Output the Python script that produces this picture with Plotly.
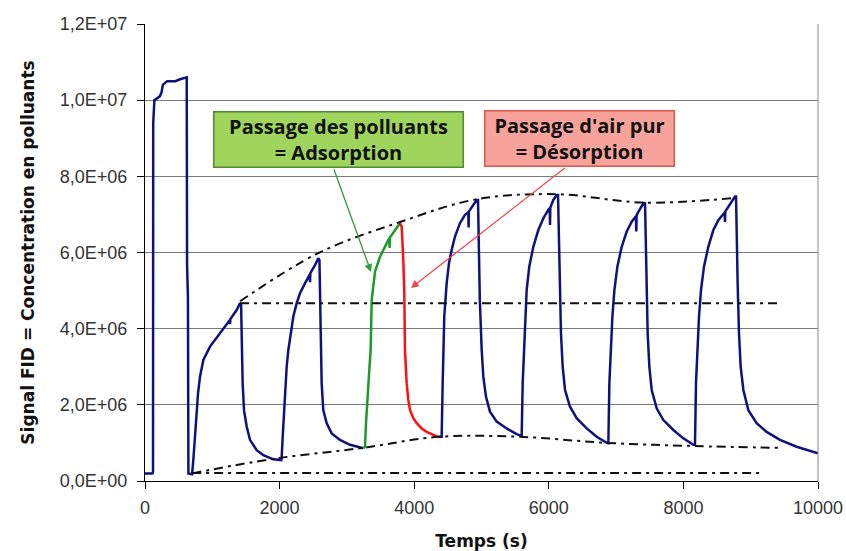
import plotly.graph_objects as go

# ---- data (time in s, FID signal) ----
# blue signal, part 1: initial injection + cycles 1 and 2
t_blue1 = [0, 110, 119, 122, 140, 220, 245, 265, 330, 450, 520, 600, 620, 625, 638, 645, 700,
           720, 743, 768, 788, 817, 867, 966, 1114, 1258, 1263, 1268, 1362, 1412, 1428,
           1437, 1451, 1471, 1511, 1560, 1659, 1758, 1907, 2025,
           2031, 2046, 2065, 2080, 2105, 2130, 2165, 2204, 2254, 2303, 2377, 2447, 2452, 2457, 2526, 2575,
           2592, 2610, 2625, 2640, 2649, 2699, 2774, 2897, 3046, 3244]
v_blue1 = [0.2e6, 0.2e6, 0.25e6, 9.4e6, 1.0e7, 1.01e7, 1.02e7, 1.04e7, 1.05e7, 1.05e7, 1.055e7, 1.06e7, 1.06e7, 5.7e6, 4.8e6, 0.2e6, 0.18e6,
           0.6e6, 1.16e6, 1.95e6, 2.3e6, 2.74e6, 3.18e6, 3.53e6, 3.88e6, 4.22e6, 4.12e6, 4.25e6, 4.49e6, 4.67e6, 4.62e6,
           3.88e6, 2.57e6, 1.86e6, 1.43e6, 1.08e6, 0.81e6, 0.68e6, 0.57e6, 0.55e6,
           0.64e6, 1.16e6, 1.86e6, 2.3e6, 3.0e6, 3.44e6, 3.88e6, 4.32e6, 4.67e6, 4.93e6, 5.19e6, 5.42e6, 5.22e6, 5.46e6, 5.67e6, 5.85e6,
           5.8e6, 3.88e6, 2.57e6, 2.13e6, 1.86e6, 1.52e6, 1.25e6, 1.08e6, 0.95e6, 0.86e6]

# green segment: adsorption (cycle 3)
t_green = [3244, 3269, 3284, 3294, 3318, 3333, 3353, 3368, 3418, 3492, 3591, 3630, 3634, 3640, 3665, 3764, 3789]
v_green = [0.86e6, 0.9e6, 1.52e6, 1.86e6, 2.39e6, 2.92e6, 3.44e6, 4.75e6, 5.5e6, 5.89e6, 6.24e6, 6.38e6, 6.12e6, 6.4e6, 6.46e6, 6.72e6, 6.77e6]

# red segment: desorption (cycle 3)
t_red = [3789, 3814, 3838, 3853, 3863, 3888, 3912, 3938, 3987, 4037, 4111, 4186, 4284, 4358]
v_red = [6.77e6, 6.68e6, 5.8e6, 4.93e6, 3.44e6, 2.57e6, 2.13e6, 1.86e6, 1.65e6, 1.52e6, 1.38e6, 1.29e6, 1.21e6, 1.16e6]

# blue signal, part 2: cycles 4 to 7
t_blue2 = [4358, 4408, 4423, 4432, 4447, 4482, 4517, 4557, 4606, 4680, 4755, 4805, 4808, 4813, 4829, 4928,
           4948, 4963, 4975, 5003, 5027, 5067, 5126, 5226, 5374, 5523, 5597,
           5612, 5632, 5646, 5671, 5710, 5770, 5844, 5919, 5993, 6013, 6018, 6023, 6067, 6117,
           6137, 6157, 6166, 6181, 6206, 6241, 6315, 6414, 6563, 6712, 6860,
           6885, 6900, 6920, 6945, 6975, 7019, 7083, 7158, 7232, 7295, 7300, 7305, 7331, 7405,
           7430, 7444, 7454, 7469, 7494, 7529, 7603, 7702, 7851, 7999, 8148,
           8172, 8187, 8207, 8232, 8262, 8306, 8370, 8445, 8519, 8613, 8618, 8623, 8668, 8767,
           8782, 8791, 8806, 8826, 8851, 8891, 8965, 9088, 9237, 9435, 9683, 10000]
v_blue2 = [1.16e6, 1.16e6, 2.57e6, 3.44e6, 4.32e6, 5.19e6, 5.72e6, 6.07e6, 6.42e6, 6.77e6, 6.99e6, 7.06e6, 6.66e6, 7.08e6, 7.12e6, 7.38e6,
           7.38e6, 6.07e6, 4.75e6, 3.44e6, 2.74e6, 2.21e6, 1.82e6, 1.56e6, 1.38e6, 1.23e6, 1.18e6,
           2.57e6, 3.44e6, 4.32e6, 5.02e6, 5.63e6, 6.15e6, 6.59e6, 6.9e6, 7.12e6, 7.16e6, 6.72e6, 7.18e6, 7.38e6, 7.51e6,
           7.51e6, 6.07e6, 5.2e6, 3.88e6, 3.0e6, 2.39e6, 1.95e6, 1.65e6, 1.38e6, 1.16e6, 1.0e6,
           0.99e6, 2.57e6, 3.44e6, 4.32e6, 5.02e6, 5.63e6, 6.15e6, 6.55e6, 6.81e6, 6.95e6, 6.55e6, 6.98e6, 7.07e6, 7.29e6,
           7.29e6, 6.07e6, 5.2e6, 3.88e6, 3.0e6, 2.39e6, 1.91e6, 1.6e6, 1.34e6, 1.12e6, 0.95e6,
           0.95e6, 2.57e6, 3.44e6, 4.32e6, 5.02e6, 5.63e6, 6.15e6, 6.59e6, 6.85e6, 7.05e6, 6.8e6, 7.08e6, 7.2e6, 7.47e6,
           7.47e6, 6.07e6, 5.2e6, 3.88e6, 3.0e6, 2.39e6, 1.86e6, 1.52e6, 1.29e6, 1.08e6, 0.9e6, 0.73e6]

# dash-dot guide lines
t_upper_env = [1412, 2570, 3789, 4933, 6122, 7400, 8767]
v_upper_env = [4.72e6, 5.98e6, 6.8e6, 7.4e6, 7.53e6, 7.31e6, 7.43e6]

t_lower_env = [700, 1900, 3239, 4358, 5572, 6865, 8143, 9430]
v_lower_env = [0.2e6, 0.58e6, 0.87e6, 1.16e6, 1.16e6, 1.0e6, 0.92e6, 0.87e6]

t_mid_level = [1412, 9428]
v_mid_level = [4.67e6, 4.67e6]

t_base_level = [700, 9138]
v_base_level = [0.21e6, 0.21e6]

y_tickvals = [0, 2e6, 4e6, 6e6, 8e6, 1e7, 1.2e7]
y_ticktext = ["0,0E+00", "2,0E+06", "4,0E+06", "6,0E+06", "8,0E+06", "1,0E+07", "1,2E+07"]
x_tickvals = [0, 2000, 4000, 6000, 8000, 10000]
x_ticktext = ["0", "2000", "4000", "6000", "8000", "10000"]

NAVY = "#10107f"
DASH = "9px,5px,3px,5px"

fig = go.Figure()
fig.add_trace(go.Scatter(x=t_blue1, y=v_blue1, mode="lines", line=dict(color=NAVY, width=2.5)))
fig.add_trace(go.Scatter(x=t_blue2, y=v_blue2, mode="lines", line=dict(color=NAVY, width=2.5)))
fig.add_trace(go.Scatter(x=t_green, y=v_green, mode="lines", line=dict(color="#1e9a2a", width=2.5)))
fig.add_trace(go.Scatter(x=t_red, y=v_red, mode="lines", line=dict(color="#ff1010", width=2.5)))
for tx, vy, shp in [(t_upper_env, v_upper_env, "spline"), (t_lower_env, v_lower_env, "spline"),
                    (t_mid_level, v_mid_level, "linear"), (t_base_level, v_base_level, "linear")]:
    fig.add_trace(go.Scatter(x=tx, y=vy, mode="lines",
                             line=dict(color="#111111", width=2, dash=DASH, shape=shp)))

# annotation boxes
fig.add_annotation(x=2880, y=8.97e6, xref="x", yref="y", showarrow=False,
                   text="<b>Passage des polluants<br>= Adsorption</b>",
                   font=dict(family="Open Sans", size=20, color="#111111"),
                   bgcolor="#9fd55c", bordercolor="#4f8a34", borderwidth=1.5,
                   width=246, height=52, align="center")
fig.add_annotation(x=6450, y=9.0e6, xref="x", yref="y", showarrow=False,
                   text="<b>Passage d'air pur<br>= Désorption</b>",
                   font=dict(family="Open Sans", size=20, color="#111111"),
                   bgcolor="#f7a39b", bordercolor="#e0554c", borderwidth=1.5,
                   width=186, height=52, align="center")
# arrows
fig.add_annotation(x=3358, y=5.49e6, ax=2800, ay=8.22e6, xref="x", yref="y", axref="x", ayref="y",
                   text="", showarrow=True, arrowhead=2, arrowsize=1.2, arrowwidth=1.3, arrowcolor="#2f9a3f")
fig.add_annotation(x=3952, y=5.07e6, ax=6260, ay=8.25e6, xref="x", yref="y", axref="x", ayref="y",
                   text="", showarrow=True, arrowhead=2, arrowsize=1.2, arrowwidth=1.3, arrowcolor="#f04848")

# right border of plot area
fig.add_shape(type="line", xref="paper", yref="paper", x0=1, x1=1, y0=0, y1=1,
              line=dict(color="#888888", width=1))

fig.update_layout(
    width=846, height=551,
    margin=dict(l=145, r=28, t=24, b=70, autoexpand=False),
    paper_bgcolor="white", plot_bgcolor="white",
    showlegend=False,
    font=dict(family="Liberation Sans", size=18, color="#333333"),
)
fig.update_xaxes(range=[0, 10000], tickvals=x_tickvals, ticktext=x_ticktext, automargin=False,
                 showgrid=False, zeroline=False, showline=True, linecolor="#000000", linewidth=1.2,
                 ticks="outside", ticklen=7, tickcolor="#000000", ticklabelstandoff=3,
                 title=dict(text="<b>Temps (s)</b>", font=dict(family="DejaVu Sans", size=17, color="#111111"),
                            standoff=18))
fig.update_yaxes(range=[0, 1.2e7], tickvals=y_tickvals, ticktext=y_ticktext, automargin=False,
                 showgrid=True, gridcolor="#7a7a7a", gridwidth=1, zeroline=False,
                 showline=True, linecolor="#000000", linewidth=1.2,
                 ticks="outside", ticklen=7, tickcolor="#000000", ticklabelstandoff=6,
                 title=dict(text="<b>Signal FID = Concentration en polluants</b>",
                            font=dict(family="DejaVu Sans", size=17, color="#111111"),
                            standoff=20))

fig.write_html("out.html", config={"displayModeBar": False},
               post_script="document.body.style.margin='0';document.body.style.overflow='hidden';")
